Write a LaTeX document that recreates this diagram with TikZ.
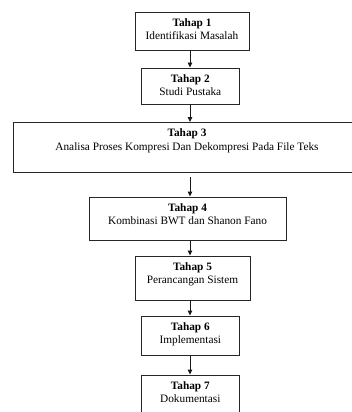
\documentclass[tikz,border=0pt]{standalone}
\usepackage{fontspec}
\setmainfont{Liberation Serif}
\usetikzlibrary{arrows.meta}
\begin{document}
\begin{tikzpicture}[x=1pt,y=-1pt,
  box/.style={draw=black!85,line width=0.9pt,rectangle,inner sep=0pt,fill=white},
  lbl/.style={anchor=north,inner sep=0pt,align=center,font=\fontsize{11.3}{13.5}\selectfont},
  arr/.style={draw=black!90,line width=0.9pt,-{Triangle[length=5pt,width=4.5pt]}}]
\useasboundingbox (0,0) rectangle (352,412);
\clip (0,0) rectangle (352,412);
\coordinate (ax) at (190,0);
% boxes
\node[box,minimum width=114pt,minimum height=38pt] (b1) at (192,31) {};
\node[box,minimum width=97.5pt,minimum height=36pt] (b2) at (190.3,86) {};
\node[box,minimum width=339pt,minimum height=49.5pt] (b3) at (182.5,147.25) {};
\node[box,minimum width=197pt,minimum height=43pt] (b4) at (187.5,218.5) {};
\node[box,minimum width=115pt,minimum height=44pt] (b5) at (192.5,278) {};
\node[box,minimum width=97.5pt,minimum height=39pt] (b6) at (190.3,335.5) {};
\node[box,minimum width=97.5pt,minimum height=45pt] (b7) at (190.3,397.5) {};
% labels
\node[lbl] (t1) at ([yshift=-6.5pt]b1.north) {\textbf{Tahap 1}\\Identifikasi Masalah};
\node[lbl] (t2) at ([yshift=-6.5pt]b2.north) {\textbf{Tahap 2}\\Studi Pustaka};
\node[lbl] (t3) at ([xshift=4.5pt,yshift=-6.5pt]b3.north) {\textbf{Tahap 3}\\Analisa Proses Kompresi Dan Dekompresi Pada File Teks};
\node[lbl] (t4) at ([yshift=-6.5pt]b4.north) {\textbf{Tahap 4}\\Kombinasi BWT dan Shanon Fano};
\node[lbl] (t5) at ([yshift=-6.5pt]b5.north) {\textbf{Tahap 5}\\Perancangan Sistem};
\node[lbl] (t6) at ([yshift=-6.5pt]b6.north) {\textbf{Tahap 6}\\Implementasi};
\node[lbl] (t7) at ([yshift=-6.5pt]b7.north) {\textbf{Tahap 7}\\Dokumentasi};
% arrows
\draw[arr] (b1.south -| ax) -- (b2.north -| ax);
\draw[arr] (b2.south -| ax) -- (b3.north -| ax);
\draw[arr,shorten <=5pt] (b3.south -| ax) -- (b4.north -| ax);
\draw[arr] (b4.south -| ax) -- (b5.north -| ax);
\draw[arr] (b5.south -| ax) -- (b6.north -| ax);
\draw[arr] (b6.south -| ax) -- (b7.north -| ax);
\end{tikzpicture}
\end{document}
